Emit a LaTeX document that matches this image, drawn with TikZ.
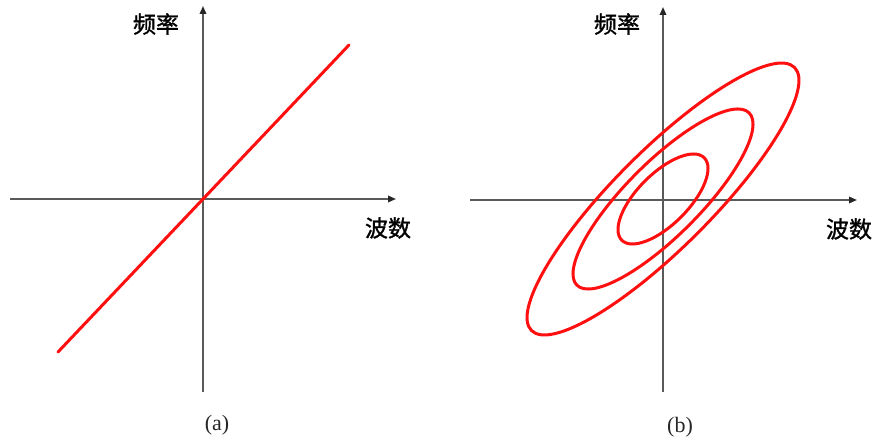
\documentclass[tikz,border=0pt]{standalone}
\usepackage{fontspec}
\setmainfont{Liberation Serif}
\newfontfamily\cjk[FakeBold=1.3]{Noto Sans CJK SC}
\usetikzlibrary{arrows.meta}
\definecolor{axisgray}{HTML}{5A5A5A}
\definecolor{curvered}{HTML}{FF1010}
\tikzset{
  axisline/.style={draw=axisgray, line width=1.7pt, -{Triangle[length=8pt,width=6.5pt,fill=black!85,color=black!85]}},
  curve/.style={draw=curvered, line width=3pt},
  cjklabel/.style={font=\cjk\fontsize{23}{25}\selectfont, inner sep=0pt},
  caplabel/.style={font=\fontsize{22}{24}\selectfont, inner sep=0pt, text=black!85},
}
\begin{document}
\begin{tikzpicture}[x=1pt,y=-1pt]
\useasboundingbox (0,0) rectangle (875,443);
% left panel
\coordinate (la0) at (203,392);
\coordinate (la1) at (203,6);
\coordinate (lb0) at (10,199);
\coordinate (lb1) at (396,199);
\coordinate (lr0) at (58,352);
\coordinate (lr1) at (349,45);
\draw[axisline] (la0) -- (la1);
\draw[axisline] (lb0) -- (lb1);
\draw[curve, line cap=round] (lr0) -- (lr1);
\node[cjklabel] (lfreq) at (156,24) {频率};
\node[cjklabel] (lwave) at (388,228) {波数};
\node[caplabel] (capa) at (217,425) {(a)};
% right panel
\coordinate (ra0) at (663,392);
\coordinate (ra1) at (663,7);
\coordinate (rb0) at (470,200);
\coordinate (rb1) at (857,200);
\coordinate (o) at (663,199);
\draw[axisline] (ra0) -- (ra1);
\draw[axisline] (rb0) -- (rb1);
\draw[curve, rotate around={45:(o)}] (o) ellipse [x radius=186pt, y radius=48.6pt];
\draw[curve, rotate around={45:(o)}] (o) ellipse [x radius=121.8pt, y radius=36.9pt];
\draw[curve, rotate around={45:(o)}] (o) ellipse [x radius=58.3pt, y radius=25.5pt];
\node[cjklabel] (rfreq) at (617,24) {频率};
\node[cjklabel] (rwave) at (849,229) {波数};
\node[caplabel] (capb) at (680,427) {(b)};
\end{tikzpicture}
\end{document}
